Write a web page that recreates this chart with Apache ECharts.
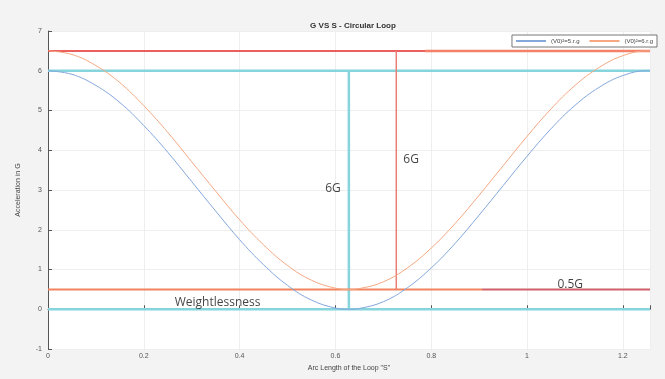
<!DOCTYPE html>
<html><head><meta charset="utf-8">
<script src="https://cdn.jsdelivr.net/npm/echarts@6/dist/echarts.min.js"></script>
<style>html,body{margin:0;padding:0;background:#f3f3f3}#c{width:665px;height:379px}</style>
</head><body><div id="c"></div>
<script>
// Arc length samples (S)
const sValues = [0,0.05,0.10,0.15,0.20,0.25,0.30,0.35,0.40,0.45,0.50,0.55,0.60,0.628,0.65,0.70,0.75,0.80,0.85,0.90,0.95,1.00,1.05,1.10,1.15,1.20,1.25,1.2566];
// G for (V0)^2 = 5.r.g  (blue)
const gBlue = [6.00,5.91,5.63,5.20,4.62,3.95,3.21,2.47,1.75,1.12,0.60,0.23,0.03,0.00,0.02,0.19,0.54,1.04,1.66,2.37,3.11,3.85,4.54,5.13,5.58,5.88,6.00,6.00];
// G for (V0)^2 = 6.r.g  (orange)
const gOrange = [6.50,6.41,6.13,5.70,5.12,4.45,3.71,2.97,2.25,1.62,1.10,0.73,0.53,0.50,0.52,0.69,1.04,1.54,2.16,2.87,3.61,4.35,5.04,5.63,6.08,6.38,6.50,6.50];
const seriesNames = ['(V0)\u00b2=5.r.g','(V0)\u00b2=6.r.g'];
// reference lines
const top65A = [[0,6.5],[0.787,6.5]];
const top65B = [[0.787,6.5],[1.2566,6.5]];
const line6 = [[0,6],[1.2566,6]];
const line05A = [[0,0.5],[0.906,0.5]];
const line05B = [[0.906,0.5],[1.2566,0.5]];
const line0 = [[0,0],[1.2566,0]];
const vertCyan = [[0.628,0],[0.628,6]];
const vertRed = [[0.727,0.5],[0.727,6.5]];
// annotations
const annotations = [
  {text:'6G', s:0.595, g:3.03},
  {text:'6G', s:0.758, g:3.77},
  {text:'Weightlessness', s:0.354, g:0.18},
  {text:'0.5G', s:1.09, g:0.63}
];
const xTicks = [0,0.2,0.4,0.6,0.8,1,1.2];
const yMin = -1, yMax = 7;

const chart = echarts.init(document.getElementById('c'));
function seg(data,color,width){
  return {type:'line',data:data,showSymbol:false,symbol:'none',silent:true,
    lineStyle:{color:color,width:width},z:1};
}
const curve = (name,xs,ys,color)=>({name:name,type:'line',smooth:0.4,symbol:'none',
  data:xs.map((x,i)=>[x,ys[i]]),lineStyle:{color:color,width:1},itemStyle:{color:color},z:3});

chart.setOption({
  backgroundColor:'#f3f3f3',
  animation:false,
  title:{text:'G VS S - Circular Loop',left:348,top:17,textAlign:'center',
    textStyle:{fontSize:8,fontWeight:'bold',color:'#333',fontFamily:'Liberation Sans'}},
  legend:{data:seriesNames,right:8,top:35,itemWidth:30,itemHeight:2,itemGap:10,
    backgroundColor:'#fff',borderColor:'#777',borderWidth:1,padding:[3,4],
    icon:'rect',textStyle:{fontSize:6,color:'#444',fontFamily:'Liberation Sans'}},
  grid:{left:48,right:15,top:31,bottom:30,show:true,backgroundColor:'#fff',borderWidth:0},
  xAxis:{type:'value',min:0,max:1.2566,interval:0.2,
    name:'Arc Length of the Loop "S"',nameLocation:'middle',nameGap:14,
    nameTextStyle:{fontSize:7,color:'#444',fontFamily:'Liberation Sans'},
    axisLine:{lineStyle:{color:'#555'}},
    axisTick:{inside:true,length:4,lineStyle:{color:'#555'}},
    axisLabel:{fontSize:7,color:'#555',margin:4,fontFamily:'Liberation Sans',
      formatter:v=>xTicks.some(t=>Math.abs(t-v)<1e-6)?String(+v.toFixed(1)):''},
    splitLine:{show:true,lineStyle:{color:'#eeeeee'}}},
  yAxis:{type:'value',min:yMin,max:yMax,interval:1,
    name:'Acceleration in G',nameLocation:'middle',nameGap:26,
    nameTextStyle:{fontSize:7,color:'#444',fontFamily:'Liberation Sans'},
    axisLine:{show:true,lineStyle:{color:'#555'}},
    axisTick:{show:true,inside:true,length:4,lineStyle:{color:'#555'}},
    axisLabel:{fontSize:7,color:'#555',margin:6,fontFamily:'Liberation Sans'},
    splitLine:{show:true,lineStyle:{color:'#eeeeee'}}},
  series:[
    seg(line6,'#86d4dc',2.5),
    seg(line0,'#86d4dc',2.5),
    seg(vertCyan,'#86d4dc',2.5),
    seg(top65A,'#e42a2a',1.5),
    seg(top65B,'#f5806a',2.5),
    seg(line05A,'#f0845c',2),
    seg(line05B,'#d0606a',2),
    seg(vertRed,'#e88078',1.5),
    curve(seriesNames[0],sValues,gBlue,'#84a8dc'),
    curve(seriesNames[1],sValues,gOrange,'#f5a882'),
    {type:'scatter',symbolSize:0,silent:true,z:5,
      data:annotations.map(a=>({value:[a.s,a.g],label:{show:true,position:'inside',formatter:a.text,
        fontSize:12,color:'#111',fontFamily:'Open Sans'}}))}
  ]
});
</script></body></html>
